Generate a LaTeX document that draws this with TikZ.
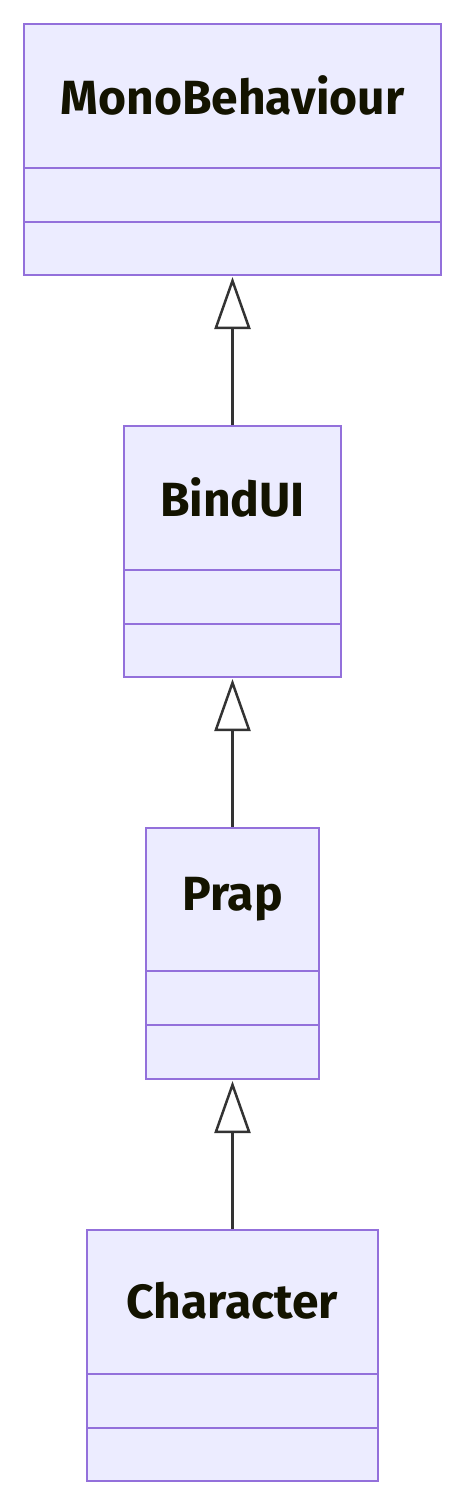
\documentclass[tikz,border=0pt]{standalone}
\usepackage{fontspec}
\setmainfont{Fira Sans}
\usetikzlibrary{arrows.meta}
\definecolor{boxfill}{HTML}{ECECFF}
\definecolor{boxline}{HTML}{9370DB}
\definecolor{edge}{HTML}{333333}
\definecolor{txt}{HTML}{131300}
\begin{document}
\begin{tikzpicture}[x=1pt,y=-1pt,
  classbox/.style={draw=boxline,fill=boxfill,line width=2.5pt},
  divider/.style={draw=boxline,line width=2.5pt},
  label/.style={text=txt,font=\fontsize{48}{54}\selectfont\bfseries,anchor=center,inner sep=0pt},
  inherit/.style={draw=edge,line width=2.5pt,-{Triangle[open,length=52pt,width=36pt,line width=2.5pt]}}]
\useasboundingbox (0,0) rectangle (465,1506);
% MonoBehaviour
\path[classbox] (24,24) rectangle (441,275);
\draw[divider] (24,168) -- (441,168);
\draw[divider] (24,222) -- (441,222);
\node[label] (mono) at (232.5,95) {MonoBehaviour};
\coordinate (monob) at (232.5,277);
% BindUI
\path[classbox] (124,426) rectangle (341,677);
\draw[divider] (124,570) -- (341,570);
\draw[divider] (124,624) -- (341,624);
\node[label] (bind) at (232.5,497) {BindUI};
\coordinate (bindt) at (232.5,425);
\coordinate (bindb) at (232.5,679);
% Prap
\path[classbox] (146,828) rectangle (319,1079);
\draw[divider] (146,971) -- (319,971);
\draw[divider] (146,1025) -- (319,1025);
\node[label] (prap) at (232.5,899) {Prap};
\coordinate (prapt) at (232.5,827);
\coordinate (prapb) at (232.5,1081);
% Character
\path[classbox] (87,1230) rectangle (378,1481);
\draw[divider] (87,1374) -- (378,1374);
\draw[divider] (87,1428) -- (378,1428);
\node[label] (char) at (232.5,1301) {Character};
\coordinate (chart) at (232.5,1229);
% inheritance
\draw[inherit] (bindt) -- (monob);
\draw[inherit] (prapt) -- (bindb);
\draw[inherit] (chart) -- (prapb);
\end{tikzpicture}
\end{document}
